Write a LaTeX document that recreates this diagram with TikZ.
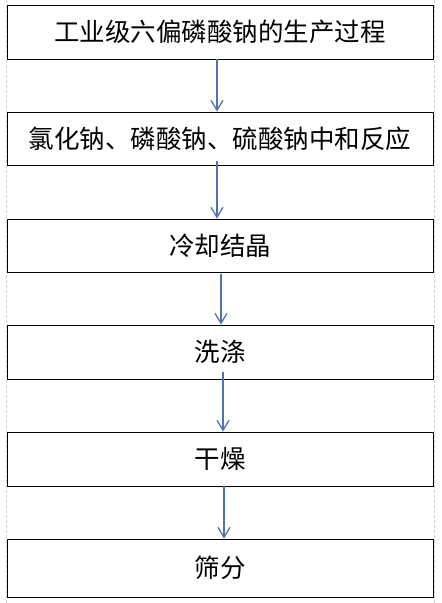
\documentclass[tikz,border=0pt]{standalone}
\usepackage{fontspec}
\newfontfamily\cjk{Noto Sans CJK SC}
\usetikzlibrary{positioning}
\usetikzlibrary{arrows.meta}
\definecolor{flowblue}{RGB}{79,114,176}
\tikzset{
        % Process steps
        stepbox/.style={draw=black, line width=0.9pt, rectangle, fill=white, minimum width=426pt, inner sep=0pt, font=\cjk\fontsize{25.5}{27}\selectfont},
        % Connecting arrows
        flow/.style={draw=flowblue, line width=1.3pt, -{Straight Barb[length=10pt,width=12pt,line width=1.3pt]}},
        % Canvas border
        canvas/.style={draw=black!18, line width=0.5pt, densely dashed}
}
\begin{document}
\begin{tikzpicture}[x=1pt, y=1pt]
            \useasboundingbox (0,0) rectangle (442,-603);
            \draw[canvas] (6.5,0) -- (6.5,-603);
            \draw[canvas] (434,0) -- (434,-603);
            \node[stepbox, minimum height=54pt] (s1) at (220,-32) {工业级六偏磷酸钠的生产过程};
            \node[stepbox, minimum height=53pt] (s2) at (220,-138.5) {氯化钠、磷酸钠、硫酸钠中和反应};
            \node[stepbox, minimum height=53pt] (s3) at (220,-245.5) {冷却结晶};
            \node[stepbox, minimum height=54pt] (s4) at (220,-352) {洗涤};
            \node[stepbox, minimum height=54pt] (s5) at (220,-459) {干燥};
            \node[stepbox, minimum height=58pt] (s6) at (220,-568) {筛分};
            \draw[flow] ([xshift=-3pt]s1.south) -- ([xshift=-3pt]s2.north);
            \draw[flow] ([xshift=-3pt,yshift=4pt]s2.south) -- ([xshift=-3pt]s3.north);
            \draw[flow] ([xshift=1pt,yshift=-2pt]s3.south) -- ([xshift=1pt]s4.north);
            \draw[flow] ([xshift=3pt,yshift=7pt]s4.south) -- ([xshift=3pt]s5.north);
            \draw[flow] ([xshift=4pt]s5.south) -- ([xshift=4pt]s6.north);
\end{tikzpicture}
\end{document}
